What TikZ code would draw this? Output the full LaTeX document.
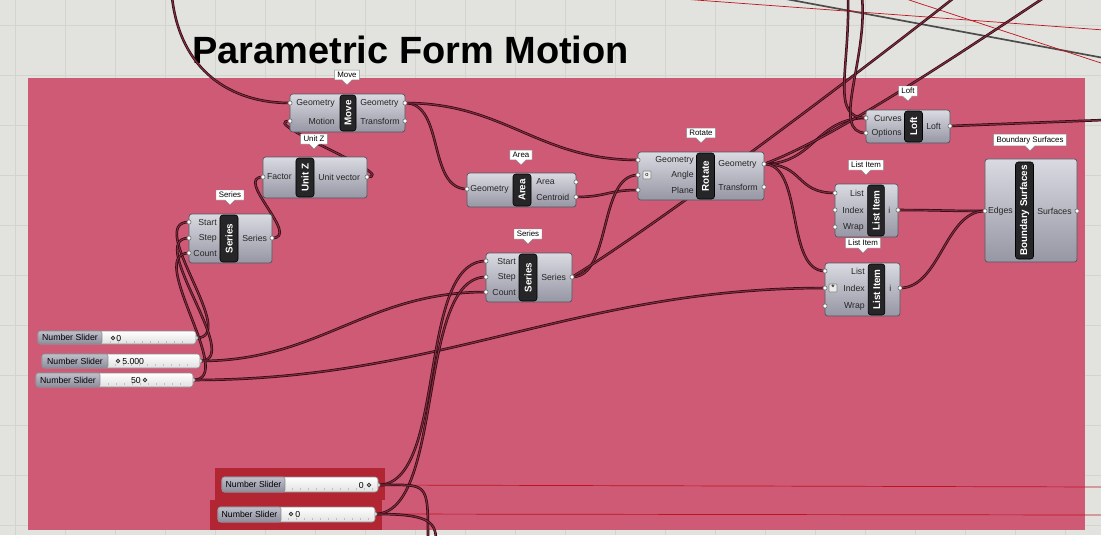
\documentclass[tikz,border=0pt]{standalone}
\usepackage{fontspec}
\setmainfont{Liberation Sans}
\usetikzlibrary{shapes.callouts}
\begin{document}
\begin{tikzpicture}[x=0.025cm,y=-0.025cm,
  wire/.style={draw=wired,line width=0.5pt,double=wirei,double distance=0.8pt},
  redw/.style={draw=redl,line width=0.5pt},
  gline/.style={draw=black!70,line width=1.2pt},
  body/.style={draw=bodyb,line width=0.5pt,rounded corners=2pt,top color=bodyt,bottom color=bodyd,inner sep=0pt},
  tab/.style={fill=tabc,draw=black,rounded corners=2pt,rotate=90,inner sep=0pt,text=white,font=\fontsize{7}{7}\selectfont\bfseries},
  plab/.style={inner sep=0pt,text=black!85,font=\fontsize{6.2}{7}\selectfont},
  tag/.style={rectangle callout,fill=white,draw=black!45,line width=0.3pt,inner xsep=2pt,inner ysep=1.5pt,callout relative pointer={(0pt,-3.5pt)},font=\fontsize{5.6}{6}\selectfont},
  port/.style={fill=white,draw=black!60,line width=0.4pt},
  sbody/.style={draw=black!45,line width=0.4pt,rounded corners=2pt,top color=white,bottom color=black!12,inner sep=0pt},
  slab/.style={draw=black!45,line width=0.4pt,rounded corners=1.5pt,top color=slt,bottom color=sld,inner sep=0pt,font=\fontsize{6.2}{7}\selectfont},
  sval/.style={inner sep=0pt,font=\fontsize{6.2}{7}\selectfont},
  tick/.style={draw=black!25,line width=0.3pt}]
\definecolor{canvas}{RGB}{226,226,222}
\definecolor{gridc}{RGB}{212,212,207}
\definecolor{grp}{RGB}{206,90,118}
\definecolor{grpd}{RGB}{178,38,52}
\definecolor{wired}{RGB}{45,8,18}
\definecolor{wirei}{RGB}{125,45,62}
\definecolor{redl}{RGB}{190,20,30}
\definecolor{bodyb}{RGB}{85,85,95}
\definecolor{bodyt}{RGB}{218,218,226}
\definecolor{bodyd}{RGB}{150,150,164}
\definecolor{tabc}{RGB}{38,38,40}
\definecolor{slt}{RGB}{192,192,204}
\definecolor{sld}{RGB}{140,140,156}

\useasboundingbox (0,0) rectangle (1101,535);
\fill[canvas] (0,0) rectangle (1101,535);
\foreach \g in {15,65,...,1100} \draw[gridc,line width=0.3pt] (\g,0) -- (\g,535);
\foreach \g in {25,75,...,535} \draw[gridc,line width=0.3pt] (0,\g) -- (1101,\g);

\node[anchor=base west,inner sep=0pt,font=\fontsize{27}{28}\selectfont\bfseries] (title) at (192,63) {Parametric Form Motion};

\fill[grp] (28,78) rectangle (1085,530);
\fill[grpd] (215,468) rectangle (385,500);
\fill[grpd] (210,500) rectangle (382,530);

% ports
\coordinate (moveGi) at (290,103); \coordinate (moveMi) at (290,121);
\coordinate (moveGo) at (405,103); \coordinate (moveTo) at (405,121);
\coordinate (uzFi) at (263,177); \coordinate (uzVo) at (367,177);
\coordinate (s1Si) at (189,222); \coordinate (s1Pi) at (189,238);
\coordinate (s1Ci) at (189,253); \coordinate (s1o) at (272,238);
\coordinate (arGi) at (467,189); \coordinate (arAo) at (576,182); \coordinate (arCo) at (576,197);
\coordinate (s2Si) at (486,261); \coordinate (s2Pi) at (486,277);
\coordinate (s2Ci) at (486,292); \coordinate (s2o) at (572,277);
\coordinate (roGi) at (638,160); \coordinate (roAi) at (638,175); \coordinate (roPi) at (638,190);
\coordinate (roGo) at (764,164); \coordinate (roTo) at (764,187);
\coordinate (loCi) at (866,118); \coordinate (loOi) at (866,133); \coordinate (loLo) at (950,126);
\coordinate (l1Li) at (835,193); \coordinate (l1Ii) at (835,210);
\coordinate (l1Wi) at (835,227); \coordinate (l1o) at (898,210);
\coordinate (l2Li) at (825,271); \coordinate (l2Ii) at (825,288);
\coordinate (l2Wi) at (825,306); \coordinate (l2o) at (900,288);
\coordinate (bsEi) at (985,211); \coordinate (bsSo) at (1077,211);
\coordinate (sl1o) at (196,338); \coordinate (sl2o) at (200,361); \coordinate (sl3o) at (193,380);
\coordinate (sl4o) at (378,485); \coordinate (sl5o) at (375,514);
\coordinate (topa) at (172,-3); \coordinate (topb) at (848,-3); \coordinate (topc) at (862,-3);
\coordinate (topd) at (1045,-3); \coordinate (tope) at (955,-3);
\coordinate (rgtA) at (1104,120); \coordinate (rgtB) at (1104,487); \coordinate (rgtC) at (1104,515);
\coordinate (botA) at (428,540); \coordinate (botB) at (436,540);
\coordinate (gA) at (775,-3); \coordinate (gB) at (1104,58);
\coordinate (rA) at (655,-3); \coordinate (rB) at (1104,30);
\coordinate (rC) at (900,-3); \coordinate (rD) at (1104,64);

\draw[gline] (gA) -- (gB);
\draw[redw] (rA) -- (rB);
\draw[redw] (rC) -- (rD);
\draw[redw] (sl4o) -- (rgtB);
\draw[redw] (sl5o) -- (rgtC);

\draw[wire] (topa) .. controls (180,70) and (230,103) .. (moveGi);
\draw[wire] (uzVo) .. controls +(35,0) and +(-35,0) .. (moveMi);
\draw[wire] (s1o) .. controls +(30,0) and +(-30,0) .. (uzFi);
\draw[wire] (sl1o) .. controls +(45,0) and +(-45,0) .. (s1Si);
\draw[wire] (sl2o) .. controls +(45,0) and +(-45,0) .. (s1Pi);
\draw[wire] (sl3o) .. controls +(45,0) and +(-45,0) .. (s1Ci);
\draw[wire] (sl2o) .. controls +(120,0) and +(-120,0) .. (s2Ci);
\draw[wire] (sl3o) .. controls +(250,0) and +(-250,0) .. (l2Ii);
\draw[wire] (sl4o) .. controls +(70,0) and +(-70,0) .. (s2Si);
\draw[wire] (sl5o) .. controls +(70,0) and +(-70,0) .. (s2Pi);
\draw[wire] (sl4o) .. controls +(50,0) and +(0,-60) .. (botA);
\draw[wire] (sl5o) .. controls +(50,0) and +(0,-20) .. (botB);
\draw[wire] (moveGo) .. controls +(40,0) and +(-40,0) .. (arGi);
\draw[wire] (moveGo) .. controls +(100,0) and +(-100,0) .. (roGi);
\draw[wire] (arCo) .. controls +(30,0) and +(-30,0) .. (roPi);
\draw[wire] (s2o) .. controls +(40,0) and +(-40,0) .. (roAi);
\draw[wire] (s2o) .. controls (650,230) and (850,80) .. (tope);
\draw[wire] (roGo) .. controls +(50,0) and +(-50,0) .. (loCi);
\draw[wire] (roGo) .. controls +(40,0) and +(-40,0) .. (l1Li);
\draw[wire] (roGo) .. controls +(40,0) and +(-40,0) .. (l2Li);
\draw[wire] (roGo) .. controls (830,140) and (950,60) .. (topd);
\draw[wire] (topb) .. controls (850,70) and (830,118) .. (loCi);
\draw[wire] (topc) .. controls (868,60) and (830,133) .. (loOi);
\draw[wire] (l1o) .. controls +(40,0) and +(-40,0) .. (bsEi);
\draw[wire] (l2o) .. controls +(40,0) and +(-40,0) .. (bsEi);
\draw[wire] (loLo) -- (rgtA);

% Move
\node[body,minimum width=2.875cm,minimum height=0.95cm] (move) at (347.5,113) {};
\node[tab,minimum width=0.9cm,minimum height=0.4cm] (moveT) at (348,113) {Move};
\node[plab,anchor=east] (moveGl) at (335,103) {Geometry};
\node[plab,anchor=east] (moveMl) at (335,121) {Motion};
\node[plab,anchor=west] (moveGr) at (360,103) {Geometry};
\node[plab,anchor=west] (moveTr) at (360,121) {Transform};
\node[tag] (moveTag) at (347,75) {Move};

% Unit Z
\node[body,minimum width=2.6cm,minimum height=1.025cm] (unitz) at (315,177.5) {};
\node[tab,minimum width=0.975cm,minimum height=0.45cm] (unitzT) at (305,177.5) {Unit Z};
\node[plab,anchor=east] (unitzFl) at (292,177) {Factor};
\node[plab,anchor=west] (unitzVr) at (318,177) {Unit vector};
\node[tag] (unitzTag) at (314,139) {Unit Z};

% Series
\node[body,minimum width=2.075cm,minimum height=1.225cm] (ser1) at (230.5,238.5) {};
\node[tab,minimum width=1.175cm,minimum height=0.45cm] (ser1T) at (229,238.5) {Series};
\node[plab,anchor=east] (ser1Sl) at (217,222) {Start};
\node[plab,anchor=east] (ser1Pl) at (217,238) {Step};
\node[plab,anchor=east] (ser1Cl) at (217,253) {Count};
\node[plab,anchor=west] (ser1Or) at (242,238) {Series};
\node[tag] (ser1Tag) at (230,195) {Series};

% Area
\node[body,minimum width=2.725cm,minimum height=0.85cm] (area) at (521.5,190) {};
\node[tab,minimum width=0.8cm,minimum height=0.45cm] (areaT) at (522,190) {Area};
\node[plab,anchor=east] (areaGl) at (509,189) {Geometry};
\node[plab,anchor=west] (areaAr) at (536,182) {Area};
\node[plab,anchor=west] (areaCr) at (536,197) {Centroid};
\node[tag] (areaTag) at (521,155) {Area};

% Series
\node[body,minimum width=2.15cm,minimum height=1.225cm] (ser2) at (529,277.5) {};
\node[tab,minimum width=1.175cm,minimum height=0.45cm] (ser2T) at (528,277.5) {Series};
\node[plab,anchor=east] (ser2Sl) at (516,261) {Start};
\node[plab,anchor=east] (ser2Pl) at (516,277) {Step};
\node[plab,anchor=east] (ser2Cl) at (516,292) {Count};
\node[plab,anchor=west] (ser2Or) at (541,277) {Series};
\node[tag] (ser2Tag) at (528,234) {Series};

% Rotate
\node[body,minimum width=3.15cm,minimum height=1.2cm] (rot) at (701,176) {};
\node[tab,minimum width=1.15cm,minimum height=0.45cm] (rotT) at (705.5,176) {Rotate};
\node[plab,anchor=east] (rotGl) at (694,160) {Geometry};
\node[plab,anchor=east] (rotAl) at (694,175) {Angle};
\node[plab,anchor=east] (rotPl) at (694,190) {Plane};
\node[plab,anchor=west] (rotGr) at (718,164) {Geometry};
\node[plab,anchor=west] (rotTr) at (718,187) {Transform};
\node[draw=black!50,fill=black!8,rounded corners=0.5pt,minimum size=0.2cm,inner sep=0pt,font=\fontsize{4}{4}\selectfont] (rotIcon) at (647,175) {o};
\node[tag] (rotTag) at (701,133) {Rotate};

% Loft
\node[body,minimum width=2.1cm,minimum height=0.825cm] (loft) at (908,126.5) {};
\node[tab,minimum width=0.775cm,minimum height=0.45cm] (loftT) at (913.5,126.5) {Loft};
\node[plab,anchor=east] (loftCl) at (902,118) {Curves};
\node[plab,anchor=east] (loftOl) at (902,133) {Options};
\node[plab,anchor=west] (loftLr) at (926,126) {Loft};
\node[tag] (loftTag) at (908,91) {Loft};

% List Item
\node[body,minimum width=1.575cm,minimum height=1.325cm] (li1) at (866.5,210.5) {};
\node[tab,minimum width=1.275cm,minimum height=0.42cm] (li1T) at (876,210.5) {List Item};
\node[plab,anchor=east] (li1Ll) at (864,193) {List};
\node[plab,anchor=east] (li1Il) at (864,210) {Index};
\node[plab,anchor=east] (li1Wl) at (864,227) {Wrap};
\node[plab,anchor=west] (li1Or) at (888,210) {i};
\node[tag] (li1Tag) at (866,165) {List Item};

% List Item
\node[body,minimum width=1.875cm,minimum height=1.325cm] (li2) at (862.5,289.5) {};
\node[tab,minimum width=1.275cm,minimum height=0.42cm] (li2T) at (876.5,289.5) {List Item};
\node[plab,anchor=east] (li2Ll) at (865,271) {List};
\node[plab,anchor=east] (li2Il) at (865,288) {Index};
\node[plab,anchor=east] (li2Wl) at (865,306) {Wrap};
\node[plab,anchor=west] (li2Or) at (889,288) {i};
\node[draw=black!50,fill=black!8,rounded corners=0.5pt,minimum size=0.2cm,inner sep=0pt,font=\fontsize{6}{6}\selectfont] (li2Icon) at (833,288) {*};
\node[tag] (li2Tag) at (863,243) {List Item};

% Boundary Surfaces
\node[body,minimum width=2.3cm,minimum height=2.575cm] (bsrf) at (1031,210.5) {};
\node[tab,minimum width=2.425cm,minimum height=0.45cm] (bsrfT) at (1024.5,210.5) {Boundary Surfaces};
\node[plab,anchor=east] (bsrfEl) at (1013,211) {Edges};
\node[plab,anchor=west] (bsrfSr) at (1037,211) {Surfaces};
\node[tag] (bsrfTag) at (1030,140) {Boundary Surfaces};

\foreach \p in {moveGi,moveMi,moveGo,moveTo,uzFi,uzVo,s1Si,s1Pi,s1Ci,s1o,arGi,arAo,arCo,
  s2Si,s2Pi,s2Ci,s2o,roGi,roAi,roPi,roGo,roTo,loCi,loOi,loLo,l1Li,l1Ii,l1Wi,l1o,
  l2Li,l2Ii,l2Wi,l2o,bsEi,bsSo,sl1o,sl2o,sl3o,sl4o,sl5o}
  \draw[port] (\p) circle (1.5pt);

% sliders
\node[sbody,minimum width=3.95cm,minimum height=0.325cm] (sl1) at (117,337.5) {};
\node[slab,anchor=west,minimum width=1.6cm,minimum height=0.325cm] (sl1L) at (sl1.west) {Number Slider};
\foreach \k in {110,118,...,188} \draw[tick] (\k,342.5) -- (\k,340.5);
\draw[black!80,line width=0.6pt] (113,338) circle (1.3pt);
\node[sval,anchor=west] (sl1V) at (116,338) {0};

\node[sbody,minimum width=3.95cm,minimum height=0.35cm] (sl2) at (121,361) {};
\node[slab,anchor=west,minimum width=1.65cm,minimum height=0.35cm] (sl2L) at (sl2.west) {Number Slider};
\foreach \k in {115,123,...,193} \draw[tick] (\k,366) -- (\k,364);
\draw[black!80,line width=0.6pt] (118,361) circle (1.3pt);
\node[sval,anchor=west] (sl2V) at (122,361) {5.000};

\node[sbody,minimum width=3.925cm,minimum height=0.35cm] (sl3) at (114.5,380) {};
\node[slab,anchor=west,minimum width=1.6cm,minimum height=0.35cm] (sl3L) at (sl3.west) {Number Slider};
\foreach \k in {108,116,...,186} \draw[tick] (\k,385) -- (\k,383);
\draw[black!80,line width=0.6pt] (145,380) circle (1.3pt);
\node[sval,anchor=east] (sl3V) at (141,380) {50};

\node[sbody,minimum width=3.9cm,minimum height=0.375cm] (sl4) at (300,484.5) {};
\node[slab,anchor=west,minimum width=1.575cm,minimum height=0.375cm] (sl4L) at (sl4.west) {Number Slider};
\foreach \k in {292,300,...,372} \draw[tick] (\k,490) -- (\k,488);
\draw[black!80,line width=0.6pt] (369,485) circle (1.3pt);
\node[sval,anchor=east] (sl4V) at (364,485) {0};

\node[sbody,minimum width=3.925cm,minimum height=0.375cm] (sl5) at (296.5,514.5) {};
\node[slab,anchor=west,minimum width=1.575cm,minimum height=0.375cm] (sl5L) at (sl5.west) {Number Slider};
\foreach \k in {288,296,...,368} \draw[tick] (\k,520) -- (\k,518);
\draw[black!80,line width=0.6pt] (291,514) circle (1.3pt);
\node[sval,anchor=west] (sl5V) at (295,514) {0};
\end{tikzpicture}
\end{document}
